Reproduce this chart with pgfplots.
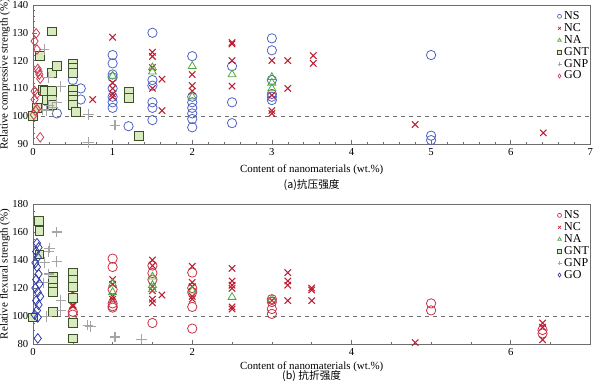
\documentclass[border=0pt]{standalone}
\usepackage{pgfplots}
\pgfplotsset{compat=1.18}
\usepackage{fontspec}
\setmainfont{Liberation Serif}
\newfontfamily\cjk{Noto Sans CJK SC}
\definecolor{nsblue}{RGB}{80,100,195}
\definecolor{nsred}{RGB}{200,50,70}
\definecolor{ncred}{RGB}{190,30,50}
\definecolor{nagreen}{RGB}{80,170,60}
\definecolor{gntedge}{RGB}{60,80,40}
\definecolor{gntfill}{RGB}{215,235,190}
\definecolor{gnpgray}{RGB}{165,165,165}
\definecolor{gored}{RGB}{210,60,80}
\definecolor{goblue}{RGB}{50,60,170}
\definecolor{frame}{RGB}{110,110,110}
\pgfplotsset{
  common/.style={
    scale only axis, width=418pt, xmin=0, xmax=7,
    /pgf/number format/assume math mode=true,
    tick pos=left, tick align=inside,
    axis line style={frame}, every tick/.style={frame},
    major tick length=3pt, minor tick length=1.8pt,
    every tick label/.append style={font=\fontsize{8}{9}\selectfont},
    label style={font=\fontsize{8.2}{9}\selectfont},
    ylabel style={at={(axis description cs:-0.0502,0.5)}, anchor=center},
    xlabel={Content of nanomaterials (wt.\%)},
    legend style={draw=none, fill=none, at={(1.005,0.985)}, anchor=north east,
      font=\fontsize{9}{9}\selectfont, row sep=-2.5pt, inner sep=1pt,
      /tikz/every even column/.append style={column sep=0pt}},
    legend cell align=left,
    legend image code/.code={\draw[mark repeat=2,mark phase=2,#1,mark size=1.5pt,line width=0.5pt] plot coordinates {(0cm,0cm)(0.12cm,0cm)(0.24cm,0cm)};},
  },
  mNS/.style={only marks, mark=o, mark size=3.5pt, line width=0.6pt},
  mNC/.style={only marks, mark=x, draw=ncred, mark size=3.4pt, line width=0.8pt},
  mNA/.style={only marks, mark=triangle, draw=nagreen, mark size=3.4pt, line width=0.6pt},
  mGNT/.style={only marks, mark=square*, draw=gntedge, fill=gntfill, mark size=3.3pt, line width=0.6pt},
  mGNP/.style={only marks, mark=+, draw=gnpgray, mark size=4pt, line width=0.8pt},
  mGO/.style={only marks, mark=diamond, mark size=3.6pt, line width=0.6pt},
}
\begin{document}
\begin{tikzpicture}
\useasboundingbox (-24.75pt,-180.75pt) rectangle (420pt,108pt);
% ---------- (a) compressive ----------
\begin{axis}[common, at={(0pt,0pt)}, anchor=south west,
  height=104.25pt, ymin=90, ymax=140,
  xtick={0,1,...,7}, minor x tick num=4,
  ytick={90,100,...,140}, minor y tick num=4,
  ylabel={Relative compressive strength (\%)}]
\addplot[dashed, frame, line width=0.6pt, forget plot] coordinates {(0,100) (7,100)};
\addplot[mNS, draw=nsblue] coordinates {
(0.3,101) (0.5,113) (0.6,110) (0.6,106)
(1,122) (1,119) (1,115) (1,114) (1,110) (1,107) (1,105) (1,103)
(1.2,96.4)
(1.5,130) (1.5,113) (1.5,111) (1.5,105) (1.5,103) (1.5,98.6)
(2,121.6) (2,107) (2,105) (2,103) (2,101) (2,99) (2,96)
(2.5,118) (2.5,105) (2.5,97.5)
(3,128) (3,123.7) (3,113) (3,108) (3,107) (3,105.8)
(5,122) (5,93) (5,91.4)};
\addplot[mNC] coordinates {
(0.75,106) (1,128.4) (1,112) (1,110) (1,108) (1,107)
(1.5,123) (1.5,121.5) (1.5,117.5) (1.5,110) (1.62,113.3) (1.62,102)
(2,115) (2,111) (2,109)
(2.5,126.5) (2.5,126) (2.5,120) (2.5,110.8)
(3,120) (3,107.5) (3,102) (3,101)
(3.2,120) (3.2,110) (3.52,121.8) (3.52,119)
(4.8,97) (6.41,94)};
\addplot[mNA] coordinates {
(0.5,110) (1,114.5) (1.5,117.5) (1.5,116) (2,118) (2,107) (2.5,115)
(3,114) (3,112) (3,110)};
\addplot[mGNT] coordinates {
(0,100) (0.09,121.6) (0.12,109.4) (0.05,103) (0.15,109) (0.17,106)
(0.24,130.5) (0.24,115.5) (0.24,109) (0.24,106) (0.24,104) (0.3,118)
(0.5,119) (0.5,117.5) (0.5,115.7) (0.5,109.6) (0.5,107.5) (0.5,106) (0.5,104) (0.54,101.5)
(1.2,108.7) (1.2,106.5) (1.33,93)};
\addplot[mGNP] coordinates {
(0.14,124) (0.2,114) (0.35,110.8) (0.2,104) (0.17,102) (0.12,102.5) (0.25,103) (0.3,105)
(0.7,100.7) (0.7,90.5) (1.03,96.8)};
\addplot[mGO, draw=gored] coordinates {
(0.04,129.8) (0.02,127) (0.05,124) (0.06,117) (0.07,116) (0.08,115) (0.09,113.5)
(0.02,109) (0.05,108) (0.02,106) (0.03,102) (0.05,102.5) (0.01,100.5) (0.09,92.4)};
\legend{NS,NC,NA,GNT,GNP,GO}
\end{axis}
\node[font=\cjk\fontsize{8}{9}\selectfont] at (209pt,-30.75pt) {(a)抗压强度};
% ---------- (b) flexural ----------
\begin{axis}[common, at={(0pt,-150pt)}, anchor=south west,
  height=105pt, ymin=80, ymax=180,
  xtick={0,2,4,6}, minor xtick={0.5,1,1.5,2.5,3,3.5,4.5,5,5.5,6.5,7},
  ytick={80,100,...,180}, minor y tick num=3,
  xlabel style={yshift=2.5pt},
  ylabel={Relative flexural strength (\%)}]
\addplot[dashed, frame, line width=0.6pt, forget plot] coordinates {(0,100) (7,100)};
\addplot[mNS, draw=nsred] coordinates {
(0.5,103) (0.5,101)
(1,141) (1,135) (1,119) (1,109) (1,107) (1,106)
(1.5,136) (1.5,130.7) (1.5,126) (1.5,95)
(2,131) (2,120) (2,117) (2,106.5) (2,91)
(3,112) (3,110) (3,105) (3,101.5)
(5,109) (5,104)
(6.4,90) (6.4,87.5)};
\addplot[mNC] coordinates {
(0.5,117) (0.5,114) (0.5,108) (0.5,107)
(1,126) (1,122.6) (1,114) (1,112)
(1.5,140) (1.5,136) (1.5,121) (1.5,118) (1.5,112) (1.5,109.5) (1.62,115)
(2,135.5) (2,124) (2,121) (2,114) (2,112)
(2.5,134) (2.5,125) (2.5,122) (2.5,119.7) (2.5,106.5) (2.5,105)
(3,111) (3.2,131) (3.2,125) (3.2,122) (3.2,111)
(3.5,120) (3.5,118.6) (3.5,111)
(4.8,81) (6.4,95) (6.4,92) (6.4,83)};
\addplot[mNA] coordinates {
(0.5,115) (1,123) (1,117) (1.5,128) (1.5,122) (1.5,119) (2,118) (2.5,113.5) (3,112)};
\addplot[mGNT] coordinates {
(0,99) (0.07,168) (0.08,161) (0.08,144)
(0.25,128) (0.25,125) (0.25,120) (0.25,117) (0.25,103)
(0.5,131) (0.5,126) (0.5,121) (0.5,113) (0.5,95) (0.5,84)};
\addplot[mGNP] coordinates {
(0.3,160) (0.21,148.5) (0.2,146) (0.15,138) (0.3,139) (0.2,130) (0.13,123.6)
(0.35,111) (0.35,104) (0.17,99.5) (0.69,93.5) (0.72,92.5) (1.03,85) (1.36,83.5)};
\addplot[mGO, draw=goblue] coordinates {
(0.05,152) (0.07,149) (0.04,146) (0.06,142) (0.03,138) (0.05,135) (0.07,130)
(0.04,126) (0.08,123) (0.03,120) (0.06,117) (0.09,114) (0.04,111) (0.07,108)
(0.05,104) (0.02,101) (0.06,99) (0.06,84)};
\legend{NS,NC,NA,GNT,GNP,GO}
\end{axis}
\node[font=\cjk\fontsize{8}{9}\selectfont] at (209pt,-174pt) {(b) 抗折强度};
\end{tikzpicture}
\end{document}
